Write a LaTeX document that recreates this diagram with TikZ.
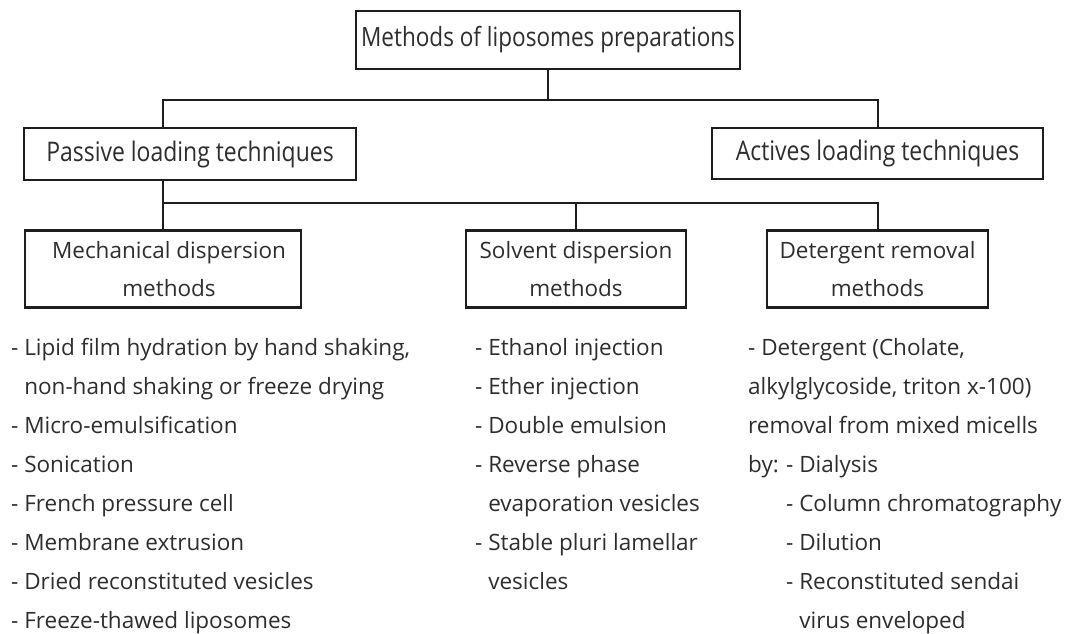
\documentclass[tikz,border=0pt]{standalone}
\usepackage{fontspec}
\setmainfont{Open Sans}
\newfontfamily\condfont[FakeStretch=0.85]{Open Sans}
\definecolor{ink}{HTML}{2E2E2E}
\definecolor{wire}{HTML}{1E1E1E}
\begin{document}
\begin{tikzpicture}[x=1pt,y=-1pt,
  box/.style={draw=wire, line width=2.2pt, inner sep=0pt, text=ink},
  headbox/.style={box, font=\condfont\fontsize{27}{30}\selectfont},
  subbox/.style={box, minimum width=#1, minimum height=77pt, align=center, font=\fontsize{22.5}{38.5}\selectfont},
  link/.style={draw=wire, line width=2pt},
  lst/.style={anchor=north west, inner sep=0pt, align=left, text=ink, font=\fontsize{22.5}{39}\selectfont}]
\useasboundingbox (0,0) rectangle (1085,634);
\fill[white] (0,0) rectangle (1085,634);
% boxes
\node[headbox, minimum width=384pt, minimum height=58pt, font=\condfont\fontsize{26.5}{30}\selectfont] (top) at (548,40) {Methods of liposomes preparations};
\node[headbox, minimum width=332pt, minimum height=52pt] (passive) at (190,154) {Passive loading techniques};
\node[headbox, minimum width=331pt, minimum height=51pt] (actives) at (877.5,153.5) {Actives loading techniques};
\node[subbox=276pt] (mech) at (163,269) {\hspace*{12pt}Mechanical dispersion\\\hspace*{12pt}methods};
\node[subbox=220pt] (solv) at (576,269) {Solvent dispersion\\methods};
\node[subbox=221pt] (det) at (877.5,269) {Detergent removal\\methods};
% junctions
\coordinate (bA) at (163,100);
\coordinate (bB) at (878,100);
\coordinate (cA) at (163,203);
\coordinate (cB) at (576,203);
\coordinate (cC) at (878,203);
% connectors
\draw[link] (top.south) -- (top.south |- bA);
\draw[link] (passive.north -| bA) -- (bA) -- (bB) -- (actives.north -| bB);
\draw[link] (passive.south -| cA) -- (mech.north -| cA);
\draw[link] (cA) -- (cC) -- (det.north -| cC);
\draw[link] (cB) -- (solv.north -| cB);
% lists
\node[lst] (mlist) at (11,338) {%
- Lipid film hydration by hand shaking,\\
\hphantom{- }non-hand shaking or freeze drying\\
- Micro-emulsification\\
- Sonication\\
- French pressure cell\\
- Membrane extrusion\\
- Dried reconstituted vesicles\\
- Freeze-thawed liposomes};
\node[lst] (slist) at (475,338) {%
- Ethanol injection\\
- Ether injection\\
- Double emulsion\\
- Reverse phase\\
\hphantom{- }evaporation vesicles\\
- Stable pluri lamellar\\
\hphantom{- }vesicles};
\node[lst] (dlist) at (748,338) {%
- Detergent (Cholate,\\
alkylglycoside, triton x-100)\\
removal from mixed micells\\
\makebox[38pt][l]{by:}- Dialysis\\
\hspace*{38pt}- Column chromatography\\
\hspace*{38pt}- Dilution\\
\hspace*{38pt}- Reconstituted sendai\\
\hspace*{38pt}\hphantom{- }virus enveloped};
\end{tikzpicture}
\end{document}
